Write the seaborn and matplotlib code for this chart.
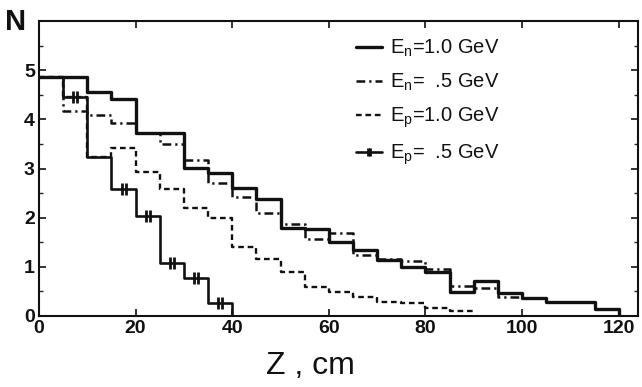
import numpy as np
import pandas as pd
import seaborn as sns
import matplotlib
matplotlib.use("Agg")
import matplotlib.pyplot as plt
from matplotlib.lines import Line2D
from matplotlib.path import Path

# ---- data (values per 5 cm bin) ----
bin_width = 5
en10_vals = [4.87, 4.87, 4.55, 4.42, 3.72, 3.72, 3.01, 2.90, 2.61, 2.37, 1.79, 1.77,
             1.51, 1.34, 1.13, 0.99, 0.90, 0.49, 0.72, 0.46, 0.36, 0.29, 0.29, 0.15]
en05_vals = [4.87, 4.16, 4.08, 3.93, 3.72, 3.50, 3.18, 2.71, 2.42, 2.10, 1.88, 1.56,
             1.69, 1.25, 1.16, 1.12, 0.96, 0.62, 0.57, 0.38]
ep10_vals = [4.87, 4.45, 3.24, 3.42, 2.92, 2.58, 2.20, 2.00, 1.40, 1.15, 0.89, 0.60,
             0.49, 0.38, 0.28, 0.26, 0.17, 0.10]
ep05_vals = [4.87, 4.45, 3.24, 2.58, 2.03, 1.08, 0.78, 0.26]
ep05_marker_bins = [1, 3, 4, 5, 6, 7]

labels = [r"E$_\mathregular{n}$=1.0 GeV", r"E$_\mathregular{n}$=  .5 GeV",
          r"E$_\mathregular{p}$=1.0 GeV", r"E$_\mathregular{p}$=  .5 GeV"]
xticks = [0, 20, 40, 60, 80, 100, 120]
yticks = [0, 1, 2, 3, 4, 5]


def step_frame(vals, name, drop=True):
    edges = list(np.arange(len(vals) + 1) * bin_width)
    ys = list(vals) + [vals[-1]]
    if drop:
        edges.append(edges[-1])
        ys.append(0.0)
    return pd.DataFrame({"z": edges, "N": ys, "series": name})


sns.set_style("ticks")
plt.rcParams["font.family"] = ["Liberation Sans", "DejaVu Sans"]
plt.rcParams["mathtext.fontset"] = "custom"
plt.rcParams["mathtext.rm"] = "Liberation Sans"
plt.rcParams["mathtext.it"] = "Liberation Sans"

fig = plt.figure(figsize=(6.42, 3.87), dpi=100)
ax = fig.add_axes([39 / 642, 1 - 316 / 387, (638 - 39) / 642, (316 - 21) / 387])

black = "#111111"
styles = [
    dict(lw=2.4, ls="-"),
    dict(lw=1.8, dashes=(3.5, 1.6, 0.9, 1.6)),
    dict(lw=1.7, dashes=(2.4, 1.6)),
    dict(lw=1.9, ls="-"),
]
frames = [step_frame(en10_vals, labels[0], True),
          step_frame(en05_vals, labels[1], False),
          step_frame(ep10_vals, labels[2], False),
          step_frame(ep05_vals, labels[3], True)]

for df, st in zip(frames, styles):
    sns.lineplot(data=df, x="z", y="N", ax=ax, color=black, sort=False,
                 estimator=None, drawstyle="steps-post", legend=False, **st)

# double-bar markers on Ep = .5 GeV
bar_path = Path([(-0.35, -1), (-0.35, 1), (0.35, -1), (0.35, 1)],
                [Path.MOVETO, Path.LINETO, Path.MOVETO, Path.LINETO])
mdf = pd.DataFrame({"z": [(b + 0.5) * bin_width for b in ep05_marker_bins],
                    "N": [ep05_vals[b] for b in ep05_marker_bins]})
sns.scatterplot(data=mdf, x="z", y="N", ax=ax, marker=bar_path, s=70,
                color=black, edgecolor=black, linewidth=2.0, legend=False, zorder=5)

ax.set_xlim(0, 124)
ax.set_ylim(0, 6)
ax.set_xticks(xticks)
ax.set_yticks(yticks)
ax.set_yticks(np.arange(0.5, 6, 1.0), minor=True)
ax.tick_params(axis="both", which="major", direction="in", length=5, width=1.2,
               top=True, right=True, labelsize=14, colors=black, pad=3)
ax.tick_params(axis="y", which="minor", direction="in", length=3, width=1.0,
               left=True, right=True)
for lab in ax.get_xticklabels() + ax.get_yticklabels():
    lab.set_fontweight("bold")
for sp in ax.spines.values():
    sp.set_linewidth(1.5)
    sp.set_color(black)
ax.set_xlabel("")
ax.set_ylabel("")

fig.text(16 / 642, 1 - 22 / 387, "N", fontsize=21, fontweight="bold",
         ha="center", va="center", color=black)
fig.text(310 / 642, 1 - 366 / 387, "Z , cm", fontsize=23, ha="center",
         va="center", color=black)

handles = [
    Line2D([], [], color=black, lw=2.4),
    Line2D([], [], color=black, lw=1.8, dashes=(3.5, 1.6, 0.9, 1.6)),
    Line2D([], [], color=black, lw=1.7, dashes=(2.4, 1.6)),
    Line2D([], [], color=black, lw=1.9, marker=bar_path, markersize=6,
           markeredgewidth=2.0),
]
leg = ax.legend(handles, labels, loc="upper left",
                bbox_to_anchor=(356 / 642, 1 - 38 / 387),
                bbox_transform=fig.transFigure, frameon=False, fontsize=14.5,
                handlelength=1.3, handletextpad=0.4, labelspacing=0.62,
                borderpad=0, borderaxespad=0, numpoints=1)
for t in leg.get_texts():
    t.set_color(black)

fig.savefig("out.png", dpi=100)
